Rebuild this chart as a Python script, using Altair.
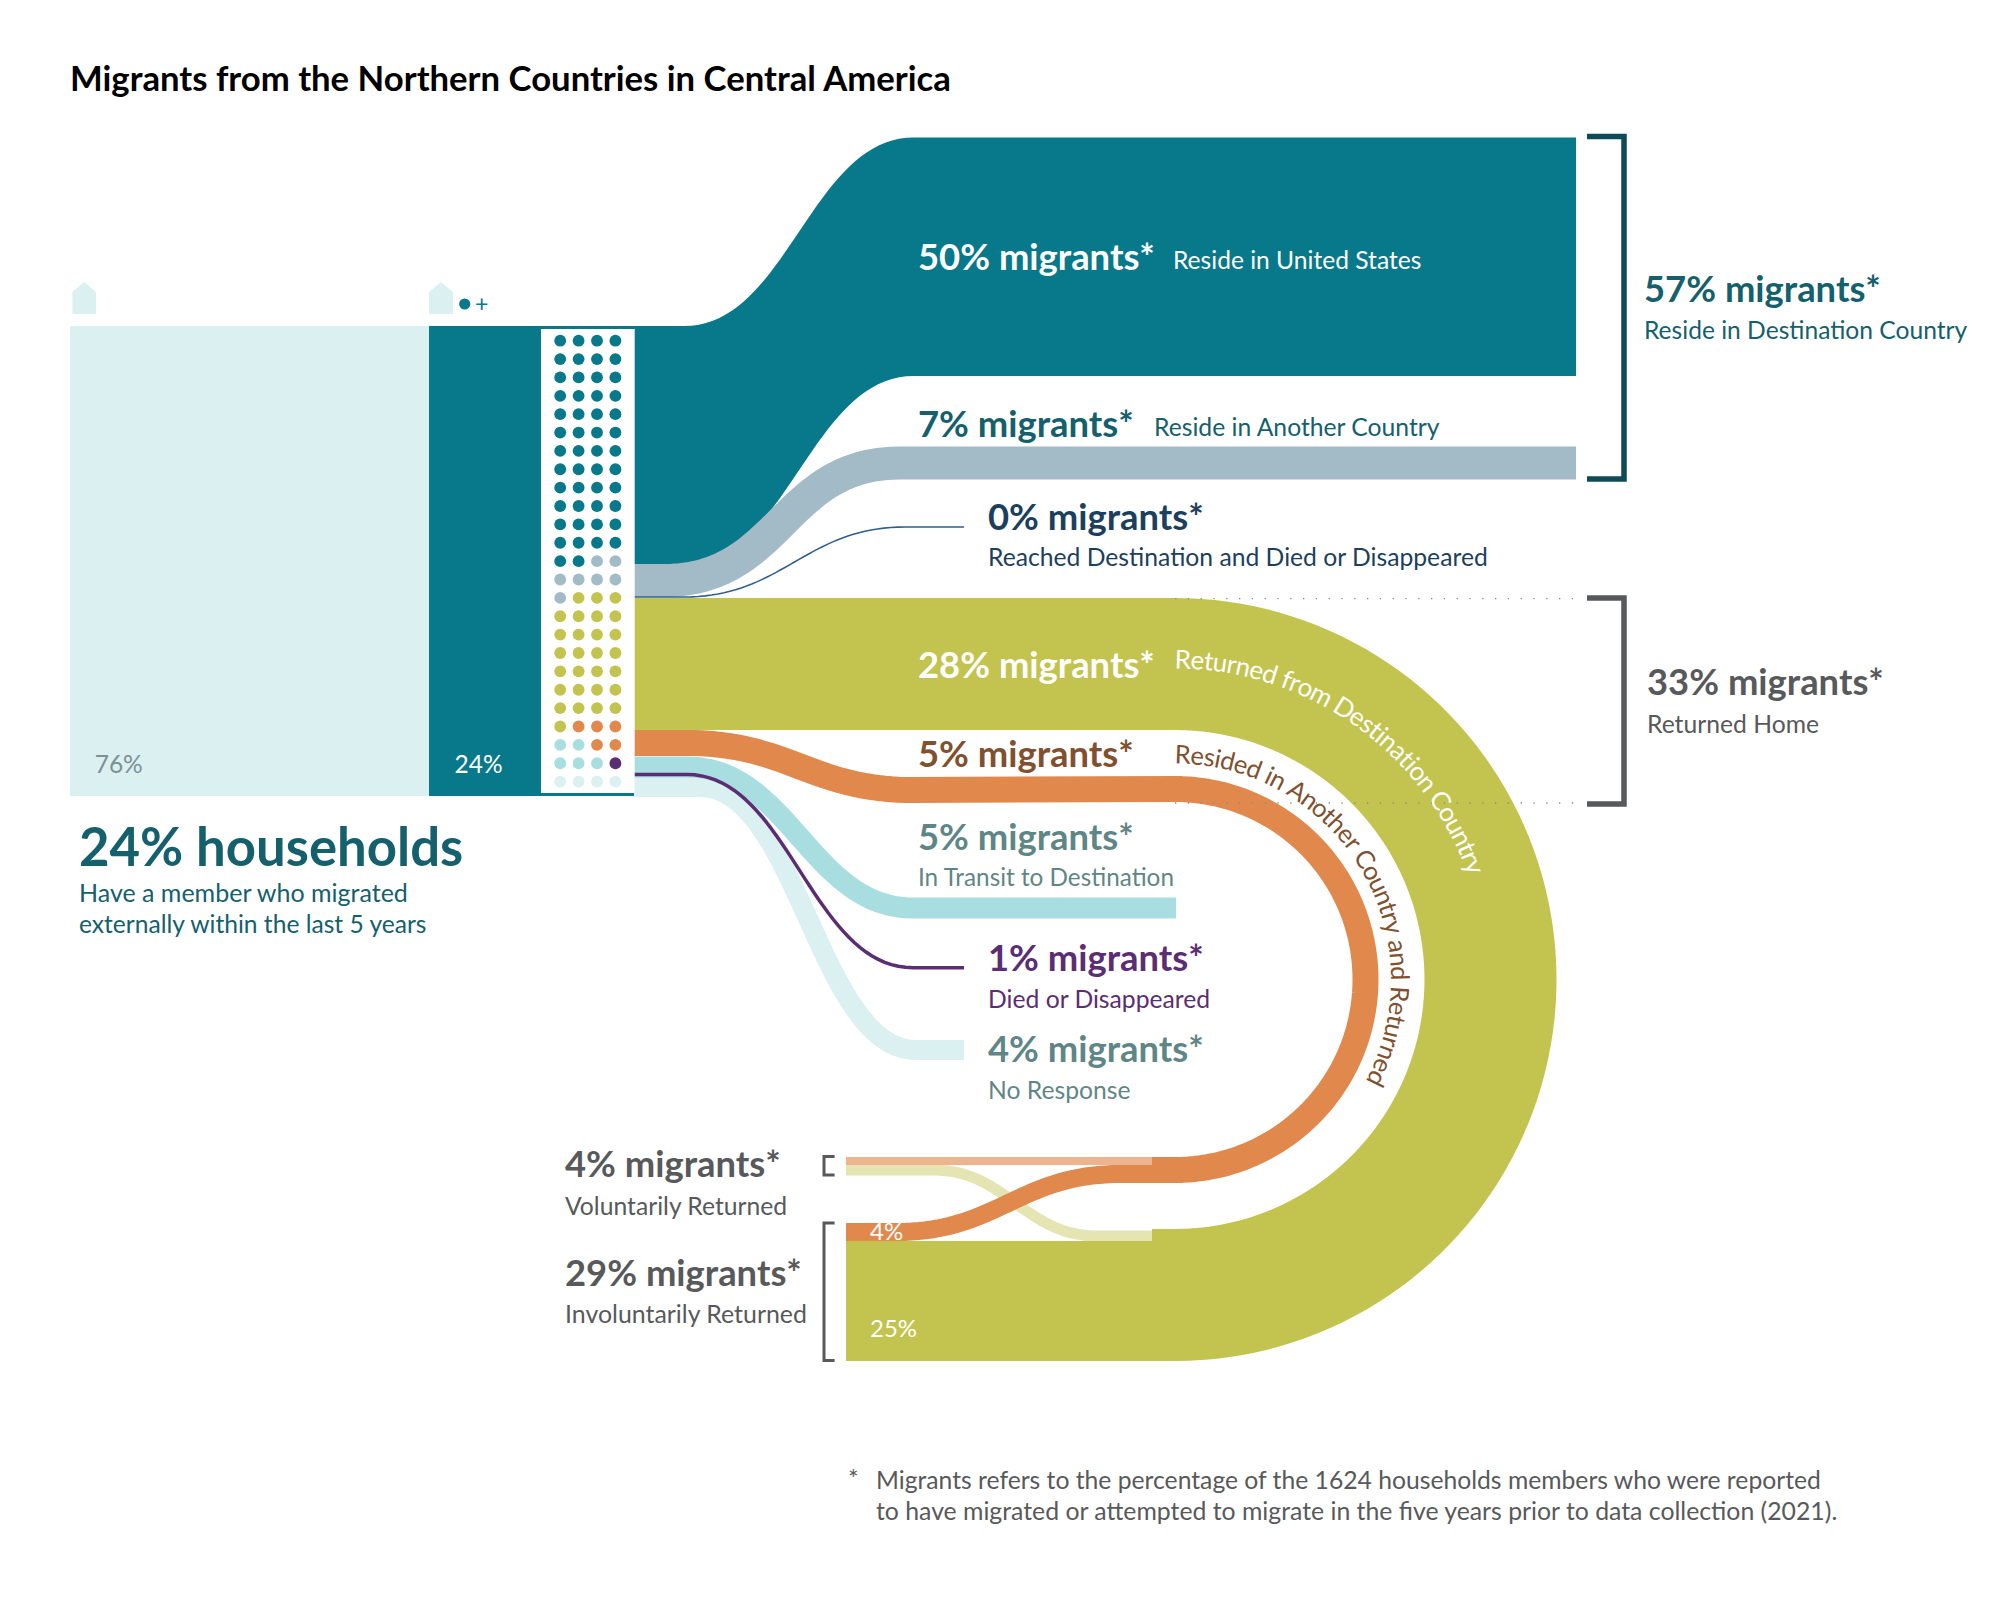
import math
import altair as alt
import pandas as pd

FONT = "Lato"
W, H = 1999, 1599
TEAL, GREY, OLIVE, ORANGE = "#08788b", "#a3bac7", "#c3c34f", "#e1894d"
AQUA, PURPLE, LIGHT, BLUE = "#a8dedf", "#5b2d72", "#dbf0f1", "#2f5f8f"
PALE_OR, PALE_OL = "#eeb38f", "#e5e4b3"
DK_TEAL, DK_GREY = "#14606d", "#58595b"

# Data
household_shares = [76, 24]
outcome_names = ["US", "Another", "Died dest", "Returned dest", "Returned other", "Transit", "Died", "No response"]
outcome_pct = [50, 7, 0, 28, 5, 5, 1, 4]
outcome_colors = [TEAL, GREY, BLUE, OLIVE, ORANGE, AQUA, PURPLE, LIGHT]

X = alt.X("x:Q", scale=alt.Scale(domain=[8, W - 8], range=[0, W - 16]), axis=None)
Y = alt.Y("y:Q", scale=alt.Scale(domain=[H - 8, 8], range=[H - 16, 0]), axis=None)


def bez(x0, y0, x1, y1, k=0.45, n=40):
    h = (x1 - x0) * k
    out = []
    for i in range(n + 1):
        t = i / n
        a, b, c, d = (1 - t) ** 3, 3 * (1 - t) ** 2 * t, 3 * (1 - t) * t ** 2, t ** 3
        out.append((a * x0 + b * (x0 + h) + c * (x1 - h) + d * x1, a * y0 + b * y0 + c * y1 + d * y1))
    return out


def arc(cx, cy, r, n=90):
    return [(cx + r * math.sin(math.pi * i / n), cy - r * math.cos(math.pi * i / n)) for i in range(n + 1)]


def rect(x0, x1, y0, y1, color):
    return alt.Chart(pd.DataFrame({"x": [x0], "x2": [x1], "y": [y0], "y2": [y1]})).mark_rect(color=color).encode(
        x=X, x2="x2:Q", y=Y, y2="y2:Q")


def line(pts, color, w, join="round"):
    df = pd.DataFrame({"x": [p[0] for p in pts], "y": [p[1] for p in pts], "i": range(len(pts))})
    return alt.Chart(df).mark_line(color=color, strokeWidth=w, strokeCap="butt", strokeJoin=join).encode(
        x=X, y=Y, order="i:Q")


def area(pts, thick, color):
    df = pd.DataFrame({"x": [p[0] for p in pts], "y": [p[1] for p in pts],
                       "y2": [p[1] + thick for p in pts]})
    return alt.Chart(df).mark_area(color=color, interpolate="linear").encode(x=X, y=Y, y2="y2:Q")


def house(x0, x1):
    df = pd.DataFrame({"x": [x0, (x0 + x1) / 2, x1], "y": [292, 282, 292], "y2": [314, 314, 314]})
    return alt.Chart(df).mark_area(color=LIGHT).encode(x=X, y=Y, y2="y2:Q")


CX, CY = 1175, 979.5
L = []
# households
L += [rect(70, 429, 326, 796, LIGHT), rect(429, 635, 326, 796, TEAL)]
L += [house(72.4, 96), house(429, 453)]
# flows
L.append(area([(634, 326)] + bez(684, 326, 914, 137.5) + [(1576, 137.5)], 238.5, TEAL))
L.append(line([(634, 580.5)] + bez(664, 580.5, 900, 463, k=0.5) + [(1576, 463)], GREY, 33))
L.append(line([(634, 597)] + bez(684, 597, 905, 527) + [(964, 527)], BLUE, 1.6))
L.append(line([(846, 1170)] + bez(933, 1170, 1098, 1236) + [(1152, 1236)], PALE_OL, 11))
L.append(line([(634, 664)] + arc(CX, CY, 315.5) + [(1152, 1295)], OLIVE, 132, "miter"))
L.append(rect(846, 1152, 1241, 1361, OLIVE))
L.append(line([(634, 743)] + bez(687, 743, 913, 790) + arc(CX, CY, 190.5) + [(1152, 1170)], ORANGE, 26))
L.append(line([(846, 1232)] + bez(897, 1232, 1120, 1174) + [(1152, 1174)], ORANGE, 18))
L.append(rect(846, 1152, 1157, 1165, PALE_OR))
L.append(line([(634, 787)] + bez(700, 787, 916, 1050) + [(964, 1050)], LIGHT, 20))
L.append(line([(634, 767)] + bez(687, 767, 913, 908) + [(1176, 908)], AQUA, 21))
L.append(line([(634, 774.5)] + bez(687, 774.5, 913, 967.7) + [(964, 967.7)], PURPLE, 3.5))

# dot column: one dot per percent, row by row
L.append(rect(541, 634.7, 329, 793, "#ffffff"))
dot_colors = [c for c, p in zip(outcome_colors, outcome_pct) for _ in range(p)]
dot_colors[88:92] = dot_colors[88:92][::-1]
dots = pd.DataFrame({
    "x": [560.2 + 18.4 * (i % 4) for i in range(len(dot_colors))],
    "y": [340.7 + 18.37 * (i // 4) for i in range(len(dot_colors))],
    "c": dot_colors})
L.append(alt.Chart(dots).mark_circle(size=140, opacity=1).encode(x=X, y=Y, color=alt.Color("c:N", scale=None)))
L.append(alt.Chart(pd.DataFrame({"x": [464.7], "y": [304], "c": [TEAL]})).mark_circle(size=125, opacity=1).encode(
    x=X, y=Y, color=alt.Color("c:N", scale=None)))

# brackets and dotted guides
L.append(line([(1587, 136.5), (1624, 136.5), (1624, 479), (1587, 479)], "#0f4a57", 5.5, "miter"))
L.append(line([(1587, 598), (1624, 598), (1624, 804), (1587, 804)], DK_GREY, 5.5, "miter"))
L.append(line([(834.6, 1156.5), (824, 1156.5), (824, 1175), (834.6, 1175)], DK_GREY, 3, "miter"))
L.append(line([(834.6, 1223), (824, 1223), (824, 1360.5), (834.6, 1360.5)], DK_GREY, 3, "miter"))
guides = pd.DataFrame({"x": [1175, 1175], "x2": [1577, 1577], "y": [598.6, 803]})
L.append(alt.Chart(guides).mark_rule(color="#8a8a8a", strokeWidth=1.3, strokeDash=[1.3, 11.5]).encode(x=X, x2="x2:Q", y=Y))

# text: (text, x, baseline, colour, size)
B = 36.4
bold_rows = [
    ("Migrants from the Northern Countries in Central America", 70, 90.5, "#000000", 34.7),
    ("50% migrants*", 918, 269.5, "#ffffff", B),
    ("7% migrants*", 918, 436.5, DK_TEAL, B),
    ("0% migrants*", 988, 529.5, "#1d3f5e", B),
    ("28% migrants*", 918, 677.5, "#ffffff", B),
    ("5% migrants*", 918, 766.5, "#80502f", B),
    ("5% migrants*", 918, 849.5, "#5f8686", B),
    ("1% migrants*", 988, 970.5, PURPLE, B),
    ("4% migrants*", 988, 1061.5, "#5f8686", B),
    ("4% migrants*", 565, 1176.5, DK_GREY, B),
    ("29% migrants*", 565, 1286, DK_GREY, B),
    ("57% migrants*", 1644, 302, DK_TEAL, B),
    ("33% migrants*", 1647, 694.8, DK_GREY, B),
    ("24% households", 79, 865.5, DK_TEAL, 52.7),
]
R = 24.7
reg_rows = [
    ("76%", 94.7, 773, "#7d9191", 24.5),
    ("24%", 454.5, 773, "#ffffff", 24.5),
    ("Have a member who migrated", 79, 902, DK_TEAL, 25),
    ("externally within the last 5 years", 79, 933, DK_TEAL, 24.6),
    ("Reside in United States", 1173, 268.5, "#ffffff", 24.6),
    ("Reside in Another Country", 1154, 435.5, DK_TEAL, R),
    ("Reached Destination and Died or Disappeared", 988, 566, "#1d3f5e", R),
    ("In Transit to Destination", 918, 886, "#5f8686", 24.3),
    ("Died or Disappeared", 988, 1007.5, PURPLE, R),
    ("No Response", 988, 1099, "#5f8686", R),
    ("Voluntarily Returned", 565, 1214.5, DK_GREY, R),
    ("Involuntarily Returned", 565, 1322.5, DK_GREY, 24.9),
    ("Reside in Destination Country", 1644, 338.7, DK_TEAL, 24.6),
    ("Returned Home", 1647, 732.5, DK_GREY, R),
    ("4%", 870, 1240, "#ffffff", 24),
    ("25%", 870, 1337, "#ffffff", 24),
    ("*", 848, 1488, DK_GREY, 25),
    ("Migrants refers to the percentage of the 1624 households members who were reported", 876, 1488.5, DK_GREY, 24.7),
    ("to have migrated or attempted to migrate in the five years prior to data collection (2021).", 876, 1520, DK_GREY, 24.8),
    ("+", 475, 312, TEAL, 23),
]


def texts(rows, weight):
    df = pd.DataFrame(rows, columns=["t", "x", "y", "c", "s"])
    return alt.Chart(df).mark_text(align="left", baseline="alphabetic", font=FONT, fontWeight=weight).encode(
        x=X, y=Y, text="t:N", color=alt.Color("c:N", scale=None), size=alt.Size("s:Q", scale=None))


L += [texts(bold_rows, "bold"), texts(reg_rows, "normal")]

EM = {"i": .24, "l": .24, "t": .34, "f": .32, "r": .36, "j": .24, " ": .25, "m": .82, "w": .78, "R": .6, "D": .7,
      "C": .64, "A": .66, "s": .42, "c": .47, "y": .49, "a": .51}


def curved(s, r, a0, a1, color, size):
    adv = [EM.get(ch, .54) for ch in s]
    tot = sum(adv)
    pos, rows = 0, []
    for ch, w in zip(s, adv):
        th = a0 + (a1 - a0) * (pos + w / 2) / tot
        pos += w
        if ch != " ":
            rows.append({"x": CX + r * math.sin(math.radians(th)), "y": CY - r * math.cos(math.radians(th)),
                         "t": ch, "a": th})
    return alt.Chart(pd.DataFrame(rows)).mark_text(align="center", baseline="alphabetic", font=FONT, fontSize=size,
                                                   color=color).encode(
        x=X, y=Y, text="t:N", angle=alt.Angle("a:Q", scale=None))


L.append(curved("Returned from Destination Country", 311, 0, 70.5, "#ffffff", 26))
L.append(curved("Resided in Another Country and Returned", 216, 0, 118, "#80502f", 25.5))

chart = alt.layer(*L).properties(width=W - 16, height=H - 16, padding=0, background="#ffffff").configure_view(stroke=None)
chart.save("out.html", embed_options={"renderer": "svg", "actions": False})
